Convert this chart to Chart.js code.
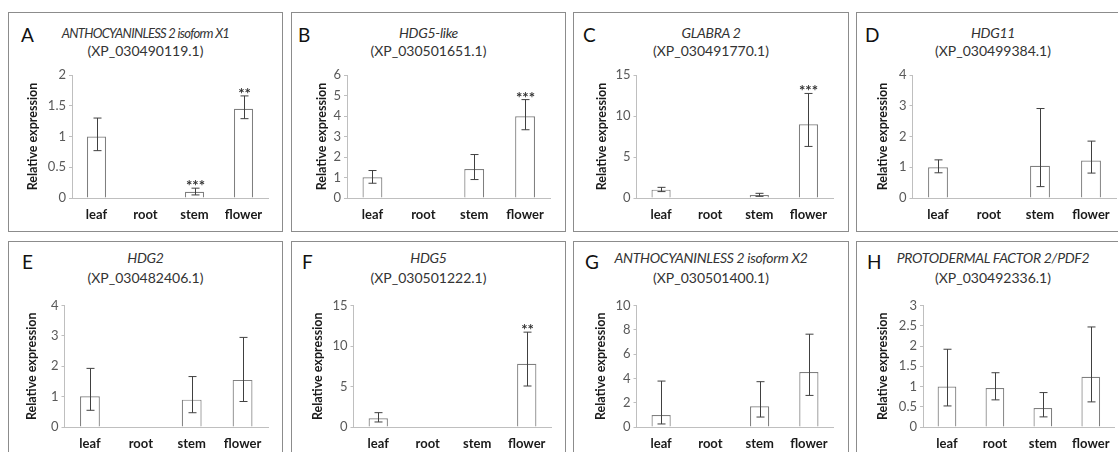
<!DOCTYPE html>
<html>
<head>
<meta charset="utf-8">
<script src="https://cdn.jsdelivr.net/npm/chart.js@4.4.1/dist/chart.umd.min.js"></script>
<style>
  body { margin: 0; width: 1118px; height: 452px; overflow: hidden; background: #fff; position: relative; font-family: Lato, sans-serif; }
  .panel { position: absolute; border: 1.5px solid #8c8c8c; box-sizing: border-box; }
  .letter { position: absolute; font-size: 19px; color: #111; line-height: 1; }
  .gene { position: absolute; text-align: center; font-size: 14px; color: #333; line-height: 1; white-space: nowrap; }
  canvas { position: absolute; }
</style>
</head>
<body>
<script>
const categories = ['leaf', 'root', 'stem', 'flower'];
const panelLetters = ['A', 'B', 'C', 'D', 'E', 'F', 'G', 'H'];
const geneNames = ['ANTHOCYANINLESS 2 isoform X1', 'HDG5-like', 'GLABRA 2', 'HDG11',
                   'HDG2', 'HDG5', 'ANTHOCYANINLESS 2 isoform X2', 'PROTODERMAL FACTOR 2/PDF2'];
const accessions = ['(XP_030490119.1)', '(XP_030501651.1)', '(XP_030491770.1)', '(XP_030499384.1)',
                    '(XP_030482406.1)', '(XP_030501222.1)', '(XP_030501400.1)', '(XP_030492336.1)'];
const yMax = [2, 6, 15, 4, 4, 15, 10, 3];
const yStep = [0.5, 1, 5, 1, 1, 5, 2, 0.5];

// mean relative expression per tissue (leaf, root, stem, flower)
const meanExpr = [
  [1.00, null, 0.10, 1.45],
  [1.01, null, 1.41, 3.99],
  [1.02, null, 0.37, 8.99],
  [1.00, null, 1.05, 1.22],
  [1.01, null, 0.90, 1.55],
  [1.07, null, null, 7.81],
  [0.99, null, 1.70, 4.52],
  [1.00, 0.96, 0.47, 1.24]
];
const errLow = [
  [0.77, null, 0.05, 1.29],
  [0.72, null, 0.90, 3.33],
  [0.78, null, 0.20, 6.29],
  [0.82, null, 0.37, 0.81],
  [0.55, null, 0.47, 0.84],
  [0.62, null, null, 5.06],
  [0.25, null, 0.82, 2.60],
  [0.52, 0.67, 0.25, 0.62]
];
const errHigh = [
  [1.30, null, 0.16, 1.66],
  [1.34, null, 2.12, 4.80],
  [1.30, null, 0.57, 12.75],
  [1.24, null, 2.91, 1.85],
  [1.93, null, 1.66, 2.95],
  [1.77, null, null, 11.71],
  [3.78, null, 3.73, 7.64],
  [1.92, 1.34, 0.85, 2.47]
];
const stars = [
  ['', '', '***', '**'],
  ['', '', '', '***'],
  ['', '', '', '***'],
  ['', '', '', ''],
  ['', '', '', ''],
  ['', '', '', '**'],
  ['', '', '', ''],
  ['', '', '', '']
];

// layout of the 2 x 4 grid
const rows = [
  { top: 12, bottom: 232, plotTop: 75, zero: 197.3, line1: 26, line2: 44, letterTop: 25 },
  { top: 241, bottom: 470, plotTop: 305.5, zero: 427, line1: 251, line2: 271, letterTop: 252 }
];
const colLeft = [8, 291, 573, 856];
const colRight = [283, 566, 849, 1130];
const plotLeft = [72, 347, 636.5, 912.5, 64.5, 353.5, 636.5, 923];
const plotRight = [268, 550.5, 833, 1116.5, 268, 551.5, 833.5, 1115];
const yTitleX = [33, 321.7, 601.7, 882.7, 31.7, 317.7, 600.7, 883];
const letterLeft = [21, 298, 583, 865, 22, 302, 585, 867];
const geneSize = [13, 14, 14, 14, 14, 14, 14, 14];
const geneSpacing = [-0.7, -0.3, -0.3, -0.3, -0.3, -0.3, -0.3, -0.3];

Chart.defaults.font.family = "Lato, sans-serif";

const errorBars = {
  id: 'errorBars',
  afterDatasetsDraw(chart, args, opts) {
    const ctx = chart.ctx;
    const y = chart.scales.y;
    const meta = chart.getDatasetMeta(0);
    ctx.save();
    ctx.strokeStyle = '#404040';
    ctx.lineWidth = 1;
    meta.data.forEach((bar, j) => {
      if (opts.high[j] == null) return;
      const x = Math.round(bar.x) + 0.5;
      const yHi = y.getPixelForValue(opts.high[j]);
      const yLo = y.getPixelForValue(opts.low[j]);
      ctx.beginPath();
      ctx.moveTo(x, yHi); ctx.lineTo(x, yLo);
      ctx.moveTo(x - 4, yHi); ctx.lineTo(x + 4, yHi);
      ctx.moveTo(x - 4, yLo); ctx.lineTo(x + 4, yLo);
      ctx.stroke();
      if (opts.stars[j]) {
        ctx.fillStyle = '#333';
        ctx.font = "bold 15px Lato";
        ctx.textAlign = 'center';
        ctx.textBaseline = 'alphabetic';
        ctx.fillText(opts.stars[j], x, yHi + 3);
      }
    });
    ctx.restore();
  }
};

for (let i = 0; i < 8; i++) {
  const row = rows[Math.floor(i / 4)];
  const col = i % 4;

  const panel = document.createElement('div');
  panel.className = 'panel';
  panel.style.left = colLeft[col] + 'px';
  panel.style.top = row.top + 'px';
  panel.style.width = (colRight[col] - colLeft[col]) + 'px';
  panel.style.height = (row.bottom - row.top) + 'px';
  document.body.appendChild(panel);

  const letter = document.createElement('div');
  letter.className = 'letter';
  letter.textContent = panelLetters[i];
  letter.style.left = letterLeft[i] + 'px';
  letter.style.top = row.letterTop + 'px';
  document.body.appendChild(letter);

  const gene = document.createElement('div');
  gene.className = 'gene';
  gene.style.left = colLeft[col] + 'px';
  gene.style.width = (colRight[col] - colLeft[col]) + 'px';
  gene.style.top = (row.line1 + (14 - geneSize[i]) / 2) + 'px';
  gene.style.fontSize = geneSize[i] + 'px';
  gene.style.fontStyle = 'italic';
  gene.style.letterSpacing = geneSpacing[i] + 'px';
  gene.textContent = geneNames[i];
  document.body.appendChild(gene);

  const acc = document.createElement('div');
  acc.className = 'gene';
  acc.style.left = colLeft[col] + 'px';
  acc.style.width = (colRight[col] - colLeft[col]) + 'px';
  acc.style.top = row.line2 + 'px';
  acc.textContent = accessions[i];
  document.body.appendChild(acc);

  const cLeft = colLeft[col] + 2;
  const cTop = Math.floor(row.plotTop - 12);
  const xAxisH = 30;
  const cW = Math.ceil(plotRight[i] + 4 - cLeft);
  const cH = Math.ceil(row.zero + xAxisH - cTop);
  const canvas = document.createElement('canvas');
  canvas.width = cW; canvas.height = cH;
  canvas.style.left = cLeft + 'px';
  canvas.style.top = cTop + 'px';
  canvas.style.width = cW + 'px';
  canvas.style.height = cH + 'px';
  document.body.appendChild(canvas);

  const yAxisW = plotLeft[i] - cLeft;

  new Chart(canvas, {
    type: 'bar',
    data: {
      labels: categories,
      datasets: [{
        data: meanExpr[i],
        backgroundColor: '#ffffff',
        borderColor: '#7f7f7f',
        borderWidth: 1.2,
        categoryPercentage: 0.5,
        barPercentage: 0.78
      }]
    },
    options: {
      responsive: false,
      animation: false,
      layout: { padding: { top: row.plotTop - cTop, right: cW - (plotRight[i] - cLeft), left: 0, bottom: 0 } },
      plugins: {
        legend: { display: false },
        tooltip: { enabled: false },
        errorBars: { low: errLow[i], high: errHigh[i], stars: stars[i] }
      },
      scales: {
        x: {
          grid: { display: false, drawTicks: false },
          border: { color: '#bfbfbf', width: 1 },
          ticks: { color: '#1a1a1a', font: { size: 13, weight: 'bold' }, padding: 9 },
          afterFit(s) { s.height = xAxisH; }
        },
        y: {
          min: 0,
          max: yMax[i],
          ticks: {
            stepSize: yStep[i],
            color: '#595959',
            font: { size: 13 },
            padding: 3,
            callback: v => String(+v.toFixed(2))
          },
          grid: { drawOnChartArea: false, tickLength: 3, color: '#bfbfbf' },
          border: { color: '#bfbfbf', width: 1 },
          title: {
            display: true,
            text: 'Relative expression',
            color: '#1a1a1a',
            font: { size: 12.5, weight: 'bold' },
            padding: yTitleX[i] - cLeft - 7.5
          },
          afterFit(s) { s.width = yAxisW; }
        }
      }
    },
    plugins: [errorBars]
  });
}
</script>
</body>
</html>
